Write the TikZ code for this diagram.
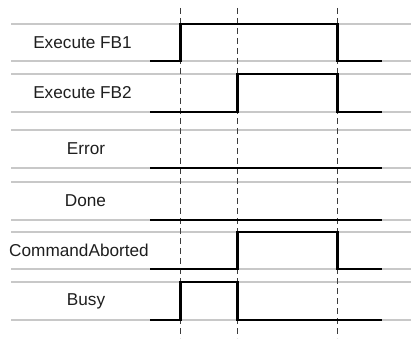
\documentclass[tikz,border=0pt]{standalone}
\usepackage{fontspec}
\setmainfont{Liberation Sans}
\usepackage{tikz}
\definecolor{rowgray}{RGB}{200,200,200}
\definecolor{markgray}{RGB}{60,60,60}
\definecolor{labelgray}{RGB}{30,30,30}
\tikzset{
  rowline/.style={rowgray, line width=1.3pt},
  timemark/.style={markgray, line width=1.4pt, dash pattern=on 6pt off 4pt},
  signal/.style={black, line width=2.6pt, line join=miter},
  siglabel/.style={text=labelgray, font=\fontsize{17.2}{19}\selectfont, inner sep=0pt}
}

\begin{document}
\begin{tikzpicture}[x=1pt,y=-1pt]
            \useasboundingbox (0,0) rectangle (411,339);
            % row borders
            \draw[rowline] (11,24) -- (411,24);
            \draw[rowline] (11,61) -- (411,61);
            \draw[rowline] (11,74) -- (411,74);
            \draw[rowline] (11,112) -- (411,112);
            \draw[rowline] (11,130) -- (411,130);
            \draw[rowline] (11,168) -- (411,168);
            \draw[rowline] (11,182) -- (411,182);
            \draw[rowline] (11,220) -- (411,220);
            \draw[rowline] (11,232) -- (411,232);
            \draw[rowline] (11,269) -- (411,269);
            \draw[rowline] (11,282) -- (411,282);
            \draw[rowline] (11,320) -- (411,320);
            % time marks
            \draw[timemark] (180.7,8) -- (180.7,338);
            \draw[timemark] (237.3,8) -- (237.3,338);
            \draw[timemark] (337.7,8) -- (337.7,338);
            % labels
            \node[siglabel] (fbone) at (82.5,42.5) {Execute FB1};
            \node[siglabel] (fbtwo) at (82.5,93) {Execute FB2};
            \node[siglabel] (error) at (86,149) {Error};
            \node[siglabel] (done) at (85.5,201) {Done};
            \node[siglabel] (aborted) at (79,250.5) {CommandAborted};
            \node[siglabel] (busy) at (86,301) {Busy};
            % signals
            \draw[signal] (150,61) -- (180.7,61) -- (180.7,24) -- (337.7,24) -- (337.7,61) -- (381.7,61);
            \draw[signal] (150,112) -- (237.3,112) -- (237.3,74) -- (337.7,74) -- (337.7,112) -- (381.7,112);
            \draw[signal] (150,168) -- (381.7,168);
            \draw[signal] (150,220) -- (381.7,220);
            \draw[signal] (150,269) -- (237.3,269) -- (237.3,232) -- (337.7,232) -- (337.7,269) -- (381.7,269);
            \draw[signal] (150,320) -- (180.7,320) -- (180.7,282) -- (237.3,282) -- (237.3,320) -- (381.7,320);
        \end{tikzpicture}
\end{document}
